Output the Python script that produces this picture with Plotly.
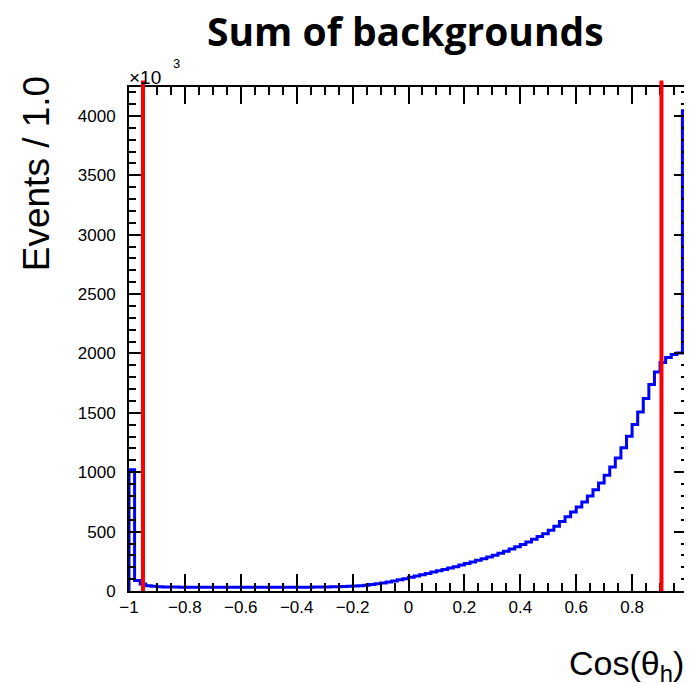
import numpy as np
import plotly.graph_objects as go

# ---- data ----
x_min, x_max, n_bins = -1.0, 1.0, 100
counts = [
    1022, 88, 58, 45, 39, 36, 34, 33, 33, 32,
    32, 32, 31, 31, 31, 31, 31, 31, 31, 31,
    31, 31, 31, 31, 31, 31, 31, 31, 31, 31,
    32, 32, 32, 33, 33, 34, 35, 36, 37, 39,
    42, 45, 49, 54, 60, 67, 75, 84, 94, 104,
    115, 126, 137, 148, 159, 170, 181, 193, 205, 218,
    231, 244, 258, 272, 287, 302, 318, 335, 353, 372,
    392, 413, 435, 458, 483, 512, 545, 585, 625, 665,
    707, 749, 800, 853, 909, 974, 1044, 1120, 1207, 1303,
    1401, 1508, 1620, 1739, 1845, 1924, 1966, 1991, 2005, 4045,
]
cut_values = [-0.95, 0.905]
y_max = 4244
title_text = "Sum of backgrounds"
x_title = "Cos(θ<sub>h</sub>)"
y_title = "Events / 1.0"

edges = np.linspace(x_min, x_max, n_bins + 1)
xs = [edges[0]] + list(edges[:-1]) + [edges[-1], edges[-1]]
ys = [0] + list(counts) + [counts[-1], 0]

fig = go.Figure()
fig.add_trace(go.Scatter(x=xs, y=ys, mode="lines", line=dict(color="#0000ff", width=3, shape="hv"),
                         hoverinfo="skip", showlegend=False))

for c in cut_values:
    fig.add_shape(type="line", xref="x", yref="paper", x0=c, x1=c, y0=0, y1=1.013,
                  line=dict(color="#ff0000", width=4))

tickfont = dict(family="Liberation Sans, Arial, sans-serif", size=17, color="black")
fig.update_xaxes(range=[x_min, x_max], dtick=0.2, tick0=-1, showgrid=False, zeroline=False,
                 showline=True, linecolor="black", linewidth=2, mirror="ticks",
                 ticks="inside", ticklen=17, tickwidth=1.5, tickcolor="black",
                 minor=dict(dtick=0.05, ticks="inside", ticklen=8, tickwidth=1.5, tickcolor="black"),
                 tickfont=tickfont, ticklabelstandoff=0)
fig.update_yaxes(range=[0, y_max], dtick=500, showgrid=False, zeroline=False,
                 showline=True, linecolor="black", linewidth=2, mirror="ticks",
                 ticks="inside", ticklen=14, tickwidth=1.5, tickcolor="black",
                 minor=dict(dtick=100, ticks="inside", ticklen=7, tickwidth=1.5, tickcolor="black"),
                 tickfont=tickfont, ticklabelstandoff=8)

annots = [
    dict(text="<b>" + title_text + "</b>", x=0.4955, y=1.113, xanchor="center", yanchor="middle",
         font=dict(family="Open Sans, sans-serif", size=39, color="black")),
    dict(text=y_title, x=-0.164, y=1.025, xanchor="center", yanchor="top", textangle=-90,
         font=dict(family="Liberation Sans, Arial, sans-serif", size=37, color="black")),
    dict(text=x_title, x=0.9964, y=-0.147, xanchor="right", yanchor="middle",
         font=dict(family="Liberation Sans, Arial, sans-serif", size=34, color="black")),
    dict(text="×10", x=-0.004, y=1.018, xanchor="left", yanchor="middle",
         font=dict(family="Liberation Sans, Arial, sans-serif", size=19, color="black")),
    dict(text="3", x=0.085, y=1.046, xanchor="center", yanchor="middle",
         font=dict(family="Liberation Sans, Arial, sans-serif", size=13, color="black")),
]
for a in annots:
    a.update(xref="paper", yref="paper", showarrow=False)
fig.update_layout(annotations=annots)

# page body adds an 8px offset; figure is sized/margined to compensate
fig.update_layout(width=684, height=676, margin=dict(l=121, r=2, t=79, b=93),
                  paper_bgcolor="white", plot_bgcolor="white", showlegend=False)

fig.write_html("out.html")
